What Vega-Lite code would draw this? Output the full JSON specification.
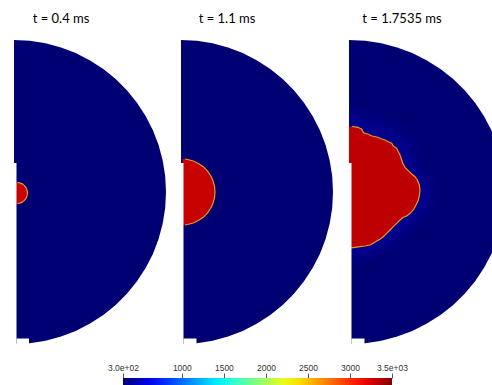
{
  "$schema": "https://vega.github.io/schema/vega-lite/v6.json",
  "width": 492,
  "height": 385,
  "padding": 0,
  "autosize": {"type": "fit", "contains": "padding"},
  "background": "white",
  "config": {"view": {"stroke": null}, "legend": {"gradientHorizontalMaxLength": 400}},
  "datasets": {
    "disk": [
      {"p":1,"y":40,"xl":14,"xr":14,"T":300},{"p":1,"y":40.8,"xl":14,"xr":29.9,"T":300},{"p":1,"y":43.3,"xl":14,"xr":45.6,"T":300},{"p":1,"y":47.4,"xl":14,"xr":61,"T":300},{"p":1,"y":53.1,"xl":14,"xr":75.8,"T":300},{"p":1,"y":60.4,"xl":14,"xr":90,"T":300},{"p":1,"y":69,"xl":14,"xr":103.3,"T":300},{"p":1,"y":79.1,"xl":14,"xr":115.7,"T":300},{"p":1,"y":90.3,"xl":14,"xr":126.9,"T":300},{"p":1,"y":102.7,"xl":14,"xr":137,"T":300},{"p":1,"y":116,"xl":14,"xr":145.6,"T":300},{"p":1,"y":130.2,"xl":14,"xr":152.9,"T":300},{"p":1,"y":145,"xl":14,"xr":158.6,"T":300},{"p":1,"y":160.4,"xl":14,"xr":162.7,"T":300},{"p":1,"y":176.1,"xl":14,"xr":165.2,"T":300},{"p":1,"y":192,"xl":14,"xr":166,"T":300},{"p":1,"y":207.9,"xl":14,"xr":165.2,"T":300},{"p":1,"y":223.6,"xl":14,"xr":162.7,"T":300},{"p":1,"y":239,"xl":14,"xr":158.6,"T":300},{"p":1,"y":254,"xl":14,"xr":152.9,"T":300},{"p":1,"y":268,"xl":14,"xr":145.6,"T":300},{"p":1,"y":281.3,"xl":14,"xr":137,"T":300},{"p":1,"y":293.7,"xl":14,"xr":126.9,"T":300},{"p":1,"y":304.9,"xl":14,"xr":115.7,"T":300},{"p":1,"y":315,"xl":14,"xr":103.3,"T":300},{"p":1,"y":323.6,"xl":14,"xr":90,"T":300},{"p":1,"y":330.9,"xl":14,"xr":75.8,"T":300},{"p":1,"y":336.6,"xl":14,"xr":61,"T":300},{"p":1,"y":340.7,"xl":14,"xr":45.6,"T":300},{"p":1,"y":343.2,"xl":14,"xr":29.9,"T":300},{"p":1,"y":344,"xl":14,"xr":14,"T":300},
      {"p":2,"y":40,"xl":181,"xr":181,"T":300},{"p":2,"y":40.8,"xl":181,"xr":196.9,"T":300},{"p":2,"y":43.3,"xl":181,"xr":212.6,"T":300},{"p":2,"y":47.4,"xl":181,"xr":228,"T":300},{"p":2,"y":53.1,"xl":181,"xr":242.8,"T":300},{"p":2,"y":60.4,"xl":181,"xr":257,"T":300},{"p":2,"y":69,"xl":181,"xr":270.3,"T":300},{"p":2,"y":79.1,"xl":181,"xr":282.7,"T":300},{"p":2,"y":90.3,"xl":181,"xr":293.9,"T":300},{"p":2,"y":102.7,"xl":181,"xr":304,"T":300},{"p":2,"y":116,"xl":181,"xr":312.6,"T":300},{"p":2,"y":130.2,"xl":181,"xr":319.9,"T":300},{"p":2,"y":145,"xl":181,"xr":325.6,"T":300},{"p":2,"y":160.4,"xl":181,"xr":329.7,"T":300},{"p":2,"y":176.1,"xl":181,"xr":332.2,"T":300},{"p":2,"y":192,"xl":181,"xr":333,"T":300},{"p":2,"y":207.9,"xl":181,"xr":332.2,"T":300},{"p":2,"y":223.6,"xl":181,"xr":329.7,"T":300},{"p":2,"y":239,"xl":181,"xr":325.6,"T":300},{"p":2,"y":254,"xl":181,"xr":319.9,"T":300},{"p":2,"y":268,"xl":181,"xr":312.6,"T":300},{"p":2,"y":281.3,"xl":181,"xr":304,"T":300},{"p":2,"y":293.7,"xl":181,"xr":293.9,"T":300},{"p":2,"y":304.9,"xl":181,"xr":282.7,"T":300},{"p":2,"y":315,"xl":181,"xr":270.3,"T":300},{"p":2,"y":323.6,"xl":181,"xr":257,"T":300},{"p":2,"y":330.9,"xl":181,"xr":242.8,"T":300},{"p":2,"y":336.6,"xl":181,"xr":228,"T":300},{"p":2,"y":340.7,"xl":181,"xr":212.6,"T":300},{"p":2,"y":343.2,"xl":181,"xr":196.9,"T":300},{"p":2,"y":344,"xl":181,"xr":181,"T":300},
      {"p":3,"y":40,"xl":349,"xr":349,"T":300},{"p":3,"y":40.8,"xl":349,"xr":365.3,"T":300},{"p":3,"y":43.3,"xl":349,"xr":381.4,"T":300},{"p":3,"y":47.4,"xl":349,"xr":397.2,"T":300},{"p":3,"y":53.1,"xl":349,"xr":412.3,"T":300},{"p":3,"y":60.4,"xl":349,"xr":426.9,"T":300},{"p":3,"y":69,"xl":349,"xr":440.5,"T":300},{"p":3,"y":79.1,"xl":349,"xr":453.2,"T":300},{"p":3,"y":90.3,"xl":349,"xr":464.7,"T":300},{"p":3,"y":102.7,"xl":349,"xr":475.1,"T":300},{"p":3,"y":116,"xl":349,"xr":483.9,"T":300},{"p":3,"y":130.2,"xl":349,"xr":491.4,"T":300},{"p":3,"y":145,"xl":349,"xr":497.2,"T":300},{"p":3,"y":160.4,"xl":349,"xr":501.4,"T":300},{"p":3,"y":176.1,"xl":349,"xr":504,"T":300},{"p":3,"y":192,"xl":349,"xr":504.8,"T":300},{"p":3,"y":207.9,"xl":349,"xr":504,"T":300},{"p":3,"y":223.6,"xl":349,"xr":501.4,"T":300},{"p":3,"y":239,"xl":349,"xr":497.2,"T":300},{"p":3,"y":254,"xl":349,"xr":491.4,"T":300},{"p":3,"y":268,"xl":349,"xr":483.9,"T":300},{"p":3,"y":281.3,"xl":349,"xr":475.1,"T":300},{"p":3,"y":293.7,"xl":349,"xr":464.7,"T":300},{"p":3,"y":304.9,"xl":349,"xr":453.2,"T":300},{"p":3,"y":315,"xl":349,"xr":440.5,"T":300},{"p":3,"y":323.6,"xl":349,"xr":426.9,"T":300},{"p":3,"y":330.9,"xl":349,"xr":412.3,"T":300},{"p":3,"y":336.6,"xl":349,"xr":397.2,"T":300},{"p":3,"y":340.7,"xl":349,"xr":381.4,"T":300},{"p":3,"y":343.2,"xl":349,"xr":365.3,"T":300},{"p":3,"y":344,"xl":349,"xr":349,"T":300}
    ],
    "haloOuter": [
      {"p":3,"y":106,"xl":349,"xr":350,"T":325},{"p":3,"y":108,"xl":349,"xr":362,"T":325},{"p":3,"y":111,"xl":349,"xr":372,"T":325},{"p":3,"y":114,"xl":349,"xr":382,"T":325},{"p":3,"y":118,"xl":349,"xr":392,"T":325},{"p":3,"y":123,"xl":349,"xr":402,"T":325},{"p":3,"y":130,"xl":349,"xr":410,"T":325},{"p":3,"y":138,"xl":349,"xr":416,"T":325},{"p":3,"y":147,"xl":349,"xr":420,"T":325},{"p":3,"y":156,"xl":349,"xr":422,"T":325},{"p":3,"y":164,"xl":349,"xr":425,"T":325},{"p":3,"y":171,"xl":349,"xr":429,"T":325},{"p":3,"y":178,"xl":349,"xr":434,"T":325},{"p":3,"y":186,"xl":349,"xr":438,"T":325},{"p":3,"y":194,"xl":349,"xr":439,"T":325},{"p":3,"y":202,"xl":349,"xr":437,"T":325},{"p":3,"y":210,"xl":349,"xr":433,"T":325},{"p":3,"y":218,"xl":349,"xr":428,"T":325},{"p":3,"y":226,"xl":349,"xr":421,"T":325},{"p":3,"y":234,"xl":349,"xr":413,"T":325},{"p":3,"y":242,"xl":349,"xr":404,"T":325},{"p":3,"y":250,"xl":349,"xr":393,"T":325},{"p":3,"y":257,"xl":349,"xr":380,"T":325},{"p":3,"y":263,"xl":349,"xr":365,"T":325},{"p":3,"y":267,"xl":349,"xr":352,"T":325},{"p":3,"y":268,"xl":349,"xr":350,"T":325}
    ],
    "haloInner": [
      {"p":3,"y":116,"xl":349,"xr":352,"T":360},{"p":3,"y":118,"xl":349,"xr":360,"T":360},{"p":3,"y":121,"xl":349,"xr":368,"T":360},{"p":3,"y":124,"xl":349,"xr":376,"T":360},{"p":3,"y":127,"xl":349,"xr":383,"T":360},{"p":3,"y":130,"xl":349,"xr":391,"T":360},{"p":3,"y":134,"xl":349,"xr":399,"T":360},{"p":3,"y":139,"xl":349,"xr":405,"T":360},{"p":3,"y":145,"xl":349,"xr":409,"T":360},{"p":3,"y":152,"xl":349,"xr":411,"T":360},{"p":3,"y":160,"xl":349,"xr":413,"T":360},{"p":3,"y":167,"xl":349,"xr":416,"T":360},{"p":3,"y":174,"xl":349,"xr":421,"T":360},{"p":3,"y":180,"xl":349,"xr":426,"T":360},{"p":3,"y":187,"xl":349,"xr":429,"T":360},{"p":3,"y":194,"xl":349,"xr":430,"T":360},{"p":3,"y":201,"xl":349,"xr":428,"T":360},{"p":3,"y":208,"xl":349,"xr":425,"T":360},{"p":3,"y":215,"xl":349,"xr":420,"T":360},{"p":3,"y":222,"xl":349,"xr":413,"T":360},{"p":3,"y":229,"xl":349,"xr":406,"T":360},{"p":3,"y":236,"xl":349,"xr":399,"T":360},{"p":3,"y":243,"xl":349,"xr":390,"T":360},{"p":3,"y":249,"xl":349,"xr":380,"T":360},{"p":3,"y":254,"xl":349,"xr":368,"T":360},{"p":3,"y":257,"xl":349,"xr":355,"T":360},{"p":3,"y":258,"xl":349,"xr":350,"T":360}
    ],
    "blob": [
      {"p":1,"y":182.5,"xl":15.5,"xr":17.5,"T":3300},{"p":1,"y":182.9,"xl":15.5,"xr":19.7,"T":3300},{"p":1,"y":183.9,"xl":15.5,"xr":22.3,"T":3300},{"p":1,"y":185.6,"xl":15.5,"xr":24.4,"T":3300},{"p":1,"y":187.8,"xl":15.5,"xr":26.1,"T":3300},{"p":1,"y":190.3,"xl":15.5,"xr":27.1,"T":3300},{"p":1,"y":193,"xl":15.5,"xr":27.5,"T":3300},{"p":1,"y":195.7,"xl":15.5,"xr":27.1,"T":3300},{"p":1,"y":198.2,"xl":15.5,"xr":26.1,"T":3300},{"p":1,"y":200.4,"xl":15.5,"xr":24.4,"T":3300},{"p":1,"y":202.1,"xl":15.5,"xr":22.3,"T":3300},{"p":1,"y":203.1,"xl":15.5,"xr":19.7,"T":3300},{"p":1,"y":203.5,"xl":15.5,"xr":17.5,"T":3300},
      {"p":2,"y":159,"xl":182.5,"xr":185,"T":3300},{"p":2,"y":159.5,"xl":182.5,"xr":187.7,"T":3300},{"p":2,"y":161,"xl":182.5,"xr":193.3,"T":3300},{"p":2,"y":163.4,"xl":182.5,"xr":198.5,"T":3300},{"p":2,"y":166.7,"xl":182.5,"xr":203.2,"T":3300},{"p":2,"y":170.8,"xl":182.5,"xr":207.3,"T":3300},{"p":2,"y":175.5,"xl":182.5,"xr":210.6,"T":3300},{"p":2,"y":180.7,"xl":182.5,"xr":213,"T":3300},{"p":2,"y":186.3,"xl":182.5,"xr":214.5,"T":3300},{"p":2,"y":192,"xl":182.5,"xr":215,"T":3300},{"p":2,"y":197.7,"xl":182.5,"xr":214.5,"T":3300},{"p":2,"y":203.3,"xl":182.5,"xr":213,"T":3300},{"p":2,"y":208.5,"xl":182.5,"xr":210.6,"T":3300},{"p":2,"y":213.2,"xl":182.5,"xr":207.3,"T":3300},{"p":2,"y":217.3,"xl":182.5,"xr":203.2,"T":3300},{"p":2,"y":220.6,"xl":182.5,"xr":198.5,"T":3300},{"p":2,"y":223,"xl":182.5,"xr":193.3,"T":3300},{"p":2,"y":224.5,"xl":182.5,"xr":187.7,"T":3300},{"p":2,"y":225,"xl":182.5,"xr":185,"T":3300},
      {"p":3,"y":126.5,"xl":349,"xr":352,"T":3330},{"p":3,"y":127.3,"xl":349,"xr":358,"T":3330},{"p":3,"y":129.3,"xl":349,"xr":361.7,"T":3330},{"p":3,"y":132.7,"xl":349,"xr":363.5,"T":3330},{"p":3,"y":134.3,"xl":349,"xr":368.3,"T":3330},{"p":3,"y":136,"xl":349,"xr":372,"T":3330},{"p":3,"y":137,"xl":349,"xr":377,"T":3330},{"p":3,"y":139,"xl":349,"xr":382,"T":3330},{"p":3,"y":140,"xl":349,"xr":385,"T":3330},{"p":3,"y":141.7,"xl":349,"xr":388.3,"T":3330},{"p":3,"y":143.3,"xl":349,"xr":391.7,"T":3330},{"p":3,"y":146,"xl":349,"xr":393.3,"T":3330},{"p":3,"y":148.3,"xl":349,"xr":396.7,"T":3330},{"p":3,"y":151.7,"xl":349,"xr":398.3,"T":3330},{"p":3,"y":155,"xl":349,"xr":400,"T":3330},{"p":3,"y":160,"xl":349,"xr":401.7,"T":3330},{"p":3,"y":163.3,"xl":349,"xr":402.7,"T":3330},{"p":3,"y":167.3,"xl":349,"xr":405,"T":3330},{"p":3,"y":170.7,"xl":349,"xr":408.3,"T":3330},{"p":3,"y":174,"xl":349,"xr":411.7,"T":3330},{"p":3,"y":176.7,"xl":349,"xr":415,"T":3330},{"p":3,"y":180,"xl":349,"xr":417.3,"T":3330},{"p":3,"y":185,"xl":349,"xr":419.3,"T":3330},{"p":3,"y":190,"xl":349,"xr":420,"T":3330},{"p":3,"y":196,"xl":349,"xr":419.3,"T":3330},{"p":3,"y":200,"xl":349,"xr":418.3,"T":3330},{"p":3,"y":205,"xl":349,"xr":416,"T":3330},{"p":3,"y":210,"xl":349,"xr":413.3,"T":3330},{"p":3,"y":213.3,"xl":349,"xr":410,"T":3330},{"p":3,"y":216,"xl":349,"xr":406.7,"T":3330},{"p":3,"y":217.3,"xl":349,"xr":403.3,"T":3330},{"p":3,"y":220,"xl":349,"xr":400,"T":3330},{"p":3,"y":223.3,"xl":349,"xr":396.7,"T":3330},{"p":3,"y":226.7,"xl":349,"xr":393.3,"T":3330},{"p":3,"y":230,"xl":349,"xr":390,"T":3330},{"p":3,"y":233.3,"xl":349,"xr":386.7,"T":3330},{"p":3,"y":236.7,"xl":349,"xr":383.3,"T":3330},{"p":3,"y":239.3,"xl":349,"xr":380,"T":3330},{"p":3,"y":241,"xl":349,"xr":376.7,"T":3330},{"p":3,"y":243.3,"xl":349,"xr":373.3,"T":3330},{"p":3,"y":245,"xl":349,"xr":370,"T":3330},{"p":3,"y":246,"xl":349,"xr":365,"T":3330},{"p":3,"y":246.7,"xl":349,"xr":360,"T":3330},{"p":3,"y":247.3,"xl":349,"xr":355,"T":3330},{"p":3,"y":247.8,"xl":349,"xr":351,"T":3330}
    ],
    "notch": [
      {"p":1,"x":13,"x2":16.5,"y":163,"y2":348},{"p":1,"x":16.5,"x2":29,"y":338.5,"y2":348},
      {"p":2,"x":180,"x2":183.5,"y":163,"y2":348},{"p":2,"x":183.5,"x2":196.5,"y":338.5,"y2":348},
      {"p":3,"x":348,"x2":351.5,"y":163,"y2":348},{"p":3,"x":351.5,"x2":364.5,"y":338.5,"y2":348}
    ],
    "titles": [
      {"label":"t = 0.4 ms","tx":61,"ty":19},
      {"label":"t = 1.1 ms","tx":227,"ty":19},
      {"label":"t = 1.7535 ms","tx":402,"ty":19}
    ]
  },
  "resolve": {"scale": {"x": "independent"}},
  "layer": [
    {
      "encoding": {
        "y": {"field": "y", "type": "quantitative", "scale": {"domain": [0, 385], "reverse": true, "nice": false, "zero": false}, "axis": null},
        "x": {"field": "xl", "type": "quantitative", "scale": {"domain": [0, 492], "nice": false, "zero": false}, "axis": null}
      },
      "layer": [
        {
          "data": {"name": "disk"},
          "mark": {"type": "area", "orient": "horizontal", "clip": true},
          "encoding": {
            "x2": {"field": "xr"},
            "detail": {"field": "p"},
            "color": {"field": "T", "type": "quantitative",
              "scale": {"domain": [300, 656, 1468, 1875, 2281, 3144, 3500], "range": ["#000073", "#0000ff", "#00ffff", "#80ff80", "#ffff00", "#ff0000", "#800000"], "interpolate": "rgb"},
              "legend": {"orient": "none", "legendX": 123, "legendY": 378, "direction": "horizontal", "gradientLength": 269, "gradientThickness": 10, "gradientStrokeWidth": 0, "title": null, "labelExpr": "''", "labelFontSize": 1, "labelOpacity": 0, "padding": 0}}
          }
        },
        {
          "data": {"name": "haloOuter"},
          "mark": {"type": "area", "orient": "horizontal", "clip": true, "interpolate": "monotone"},
          "encoding": {
            "x2": {"field": "xr"},
            "detail": {"field": "p"},
            "color": {"field": "T", "type": "quantitative"}
          }
        },
        {
          "data": {"name": "haloInner"},
          "mark": {"type": "area", "orient": "horizontal", "clip": true, "interpolate": "monotone"},
          "encoding": {
            "x2": {"field": "xr"},
            "detail": {"field": "p"},
            "color": {"field": "T", "type": "quantitative"}
          }
        },
        {
          "data": {"name": "blob"},
          "mark": {"type": "area", "orient": "horizontal", "clip": true},
          "encoding": {
            "x2": {"field": "xr"},
            "detail": {"field": "p"},
            "color": {"field": "T", "type": "quantitative"}
          }
        },
        {
          "data": {"name": "blob"},
          "mark": {"type": "line", "clip": true, "color": "#e59a20", "strokeWidth": 1.2},
          "encoding": {
            "x": {"field": "xr", "type": "quantitative"},
            "detail": {"field": "p"},
            "order": {"field": "y"}
          }
        },
        {
          "data": {"name": "notch"},
          "mark": {"type": "rect", "color": "white", "clip": true},
          "encoding": {
            "x": {"field": "x", "type": "quantitative"},
            "x2": {"field": "x2"},
            "y": {"field": "y", "type": "quantitative"},
            "y2": {"field": "y2"}
          }
        },
        {
          "data": {"name": "titles"},
          "mark": {"type": "text", "font": "Lato", "fontSize": 13, "color": "black", "align": "center", "baseline": "middle"},
          "encoding": {
            "x": {"field": "tx", "type": "quantitative"},
            "y": {"field": "ty", "type": "quantitative"},
            "text": {"field": "label"}
          }
        }
      ]
    },
    {
      "data": {"values": [{"T": 300}, {"T": 3500}]},
      "mark": {"type": "rule", "opacity": 0},
      "encoding": {
        "x": {"field": "T", "type": "quantitative",
          "scale": {"domain": [300, 3500], "range": [123, 392], "nice": false, "zero": false},
          "axis": {"orient": "top", "offset": -378, "values": [300, 1000, 1500, 2000, 2500, 3000, 3500], "format": "d",
            "labelExpr": "datum.value == 300 ? '3.0e+02' : datum.value == 3500 ? '3.5e+03' : datum.label",
            "domain": false, "grid": false, "ticks": true, "tickSize": 5, "tickColor": "#555", "tickWidth": 1,
            "labelFont": "Liberation Sans", "labelFontSize": 8.5, "labelColor": "#333", "labelPadding": 1,
            "labelFlush": false, "labelOverlap": false, "title": null}}
      }
    }
  ]
}
